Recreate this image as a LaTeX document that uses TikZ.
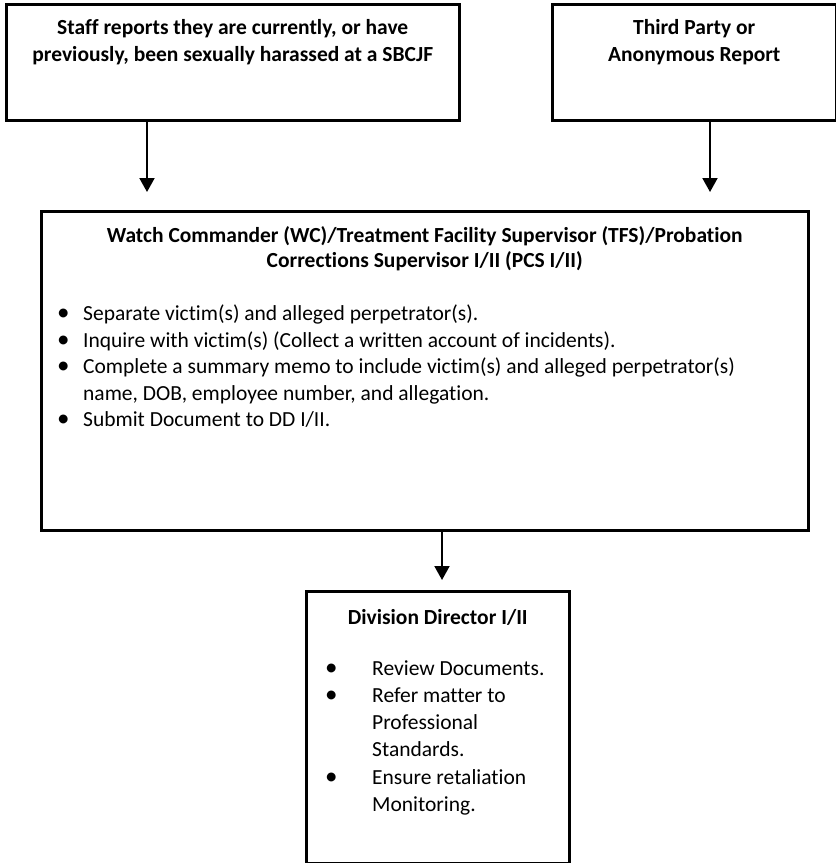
\documentclass[tikz,border=0pt]{standalone}
\usepackage{fontspec}
\setmainfont{Carlito}[Ligatures=NoCommon]
\usetikzlibrary{arrows.meta}

\tikzset{
  flowbox/.style={draw, line width=2.5pt, inner sep=0pt, anchor=north west},
  flowarrow/.style={line width=2pt, -{Triangle[width=15pt,length=14pt]}},
  headtext/.style={font=\fontsize{21.5}{27.5}\selectfont\bfseries, align=center, anchor=north, inner sep=0pt},
  listtext/.style={font=\fontsize{21.5}{26.5}\selectfont, anchor=north west, inner sep=0pt},
}
\newcommand{\listdot}{{\fontsize{25}{25}\selectfont\textbullet}}

\begin{document}
\begin{tikzpicture}[x=1pt, y=-1pt]
  \useasboundingbox (0,0) rectangle (836,863);

  % the boxes
  \node[flowbox, minimum width=453pt, minimum height=116pt] (staff) at (5,3) {};
  \node[flowbox, minimum width=284pt, minimum height=116pt] (third) at (551,3) {};
  \node[flowbox, minimum width=767pt, minimum height=319pt] (watch) at (40,210) {};
  \node[flowbox, minimum width=263pt, minimum height=272pt] (director) at (305,590) {};

  % headings
  \node[headtext] (stafftext) at ([yshift=-16pt]staff.north)
    {Staff reports they are currently, or have\\previously, been sexually harassed at a SBCJF};
  \node[headtext] (thirdtext) at ([yshift=-16pt]third.north)
    {Third Party or\\Anonymous Report};
  \node[headtext, font=\fontsize{21.5}{25.5}\selectfont\bfseries] (watchtext) at ([yshift=-16pt]watch.north)
    {Watch Commander (WC)/Treatment Facility Supervisor (TFS)/Probation\\Corrections Supervisor I/II (PCS I/II)};
  \node[headtext] (directortext) at ([yshift=-19pt]director.north)
    {Division Director I/II};

  % lists
  \node[listtext] (watchlist) at ([xshift=17pt, yshift=-92pt]watch.north west)
    {\begin{tabular}{@{}p{26pt}@{}l@{}}
      \listdot & Separate victim(s) and alleged perpetrator(s).\\
      \listdot & Inquire with victim(s) (Collect a written account of incidents).\\
      \listdot & Complete a summary memo to include victim(s) and alleged perpetrator(s)\\
               & name, DOB, employee number, and allegation.\\
      \listdot & Submit Document to DD I/II.
    \end{tabular}};
  \node[listtext, font=\fontsize{21.5}{27.2}\selectfont] (directorlist) at ([xshift=20pt, yshift=-66pt]director.north west)
    {\begin{tabular}{@{}p{47pt}@{}l@{}}
      \listdot & Review Documents.\\
      \listdot & Refer matter to\\
               & Professional\\
               & Standards.\\
      \listdot & Ensure retaliation\\
               & Monitoring.
    \end{tabular}};

  % arrows
  \coordinate (staffout) at ([xshift=142pt]staff.south west);
  \coordinate (thirdout) at ([xshift=159pt]third.south west);
  \coordinate (watchout) at ([xshift=402pt]watch.south west);
  \draw[flowarrow, shorten >=18pt] (staffout) -- (staffout |- watch.north);
  \draw[flowarrow, shorten >=18pt] (thirdout) -- (thirdout |- watch.north);
  \draw[flowarrow, shorten >=10pt] (watchout) -- (watchout |- director.north);
\end{tikzpicture}
\end{document}
